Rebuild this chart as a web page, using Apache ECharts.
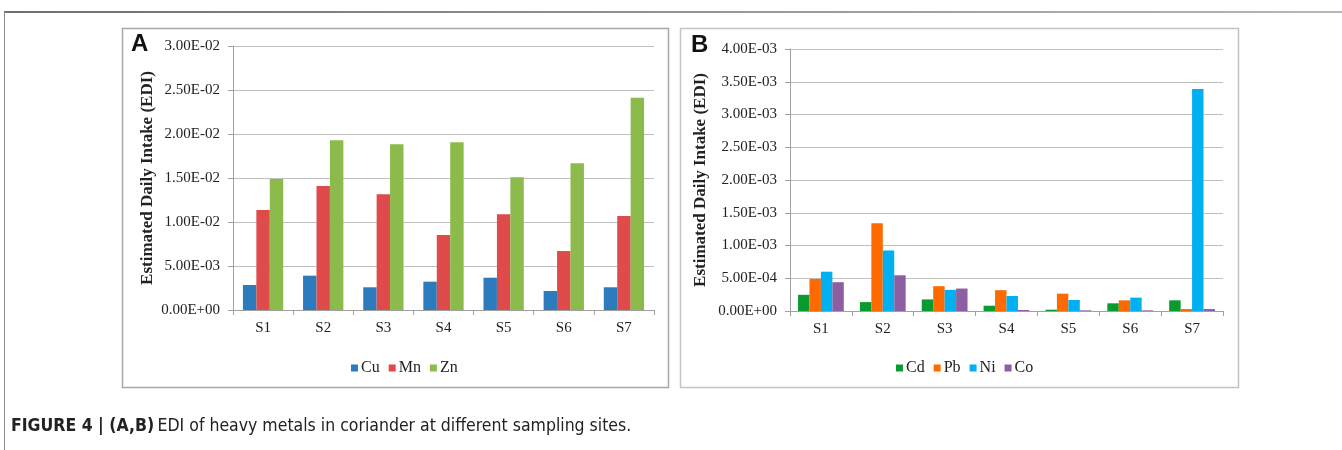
<!DOCTYPE html>
<html>
<head>
<meta charset="utf-8">
<script src="https://cdn.jsdelivr.net/npm/echarts@6/dist/echarts.min.js"></script>
<style>
html,body{margin:0;padding:0;background:#fff;}
#c{width:1342px;height:450px;}
</style>
</head>
<body>
<div id="c"></div>
<script>
const categories = ['S1', 'S2', 'S3', 'S4', 'S5', 'S6', 'S7'];
// Panel A
const cu = [0.00284, 0.0039, 0.00258, 0.00322, 0.00367, 0.00216, 0.00258];
const mn = [0.01136, 0.0141, 0.01315, 0.00852, 0.01087, 0.0067, 0.01068];
const zn = [0.01489, 0.0193, 0.01883, 0.01905, 0.01508, 0.01667, 0.02413];
// Panel B
const cd = [2.47e-4, 1.36e-4, 1.77e-4, 8.1e-5, 2.0e-5, 1.17e-4, 1.63e-4];
const pb = [4.9e-4, 1.34e-3, 3.79e-4, 3.18e-4, 2.65e-4, 1.63e-4, 3.0e-5];
const ni = [6.0e-4, 9.24e-4, 3.23e-4, 2.3e-4, 1.68e-4, 2.04e-4, 3.39e-3];
const co = [4.4e-4, 5.45e-4, 3.43e-4, 1.5e-5, 1.0e-5, 1.0e-5, 3.0e-5];
const axisA = {min: 0, max: 0.03, interval: 0.005};
const axisB = {min: 0, max: 0.004, interval: 0.0005};
const yTitle = 'Estimated Daily Intake (EDI)';
const caption = 'EDI of heavy metals in coriander at different sampling sites.';

function sci(v) {
  if (Math.abs(v) < 1e-12) return '0.00E+00';
  const parts = v.toExponential(2).split('e');
  const n = parseInt(parts[1], 10);
  return parts[0] + 'E' + (n < 0 ? '-' : '+') + String(Math.abs(n)).padStart(2, '0');
}

const serif = '"Liberation Serif", "Times New Roman", serif';
const capFont = '"DejaVu Sans Condensed", "Liberation Sans Narrow", "Liberation Sans", sans-serif';
const txt = '#222';

function xAxis(gi) {
  return {
    type: 'category', gridIndex: gi, data: categories,
    axisLine: {lineStyle: {color: '#a0a0a0', width: 1}},
    axisTick: {show: true, length: 5, lineStyle: {color: '#a0a0a0'}},
    axisLabel: {fontFamily: serif, fontSize: 15, color: txt, margin: 11}
  };
}
function yAxis(gi, ax, gap) {
  return {
    type: 'value', gridIndex: gi, min: ax.min, max: ax.max, interval: ax.interval,
    name: yTitle, nameLocation: 'middle', nameGap: gap,
    nameTextStyle: {fontFamily: serif, fontSize: 17, fontWeight: 'bold', color: txt},
    axisLine: {show: true, lineStyle: {color: '#a0a0a0', width: 1}},
    axisTick: {show: true, length: 5, lineStyle: {color: '#a0a0a0'}},
    axisLabel: {fontFamily: serif, fontSize: 15, color: txt, margin: 13, formatter: sci},
    splitLine: {show: true, lineStyle: {color: '#c0c0c0', width: 1}}
  };
}
function bar(name, data, color, xi, gap) {
  return {
    name: name, type: 'bar', data: data, xAxisIndex: xi, yAxisIndex: xi,
    barGap: '0%', barCategoryGap: gap, itemStyle: {color: color}, silent: true
  };
}

const chart = echarts.init(document.getElementById('c'), null, {renderer: 'canvas'});
chart.setOption({
  animation: false,
  backgroundColor: '#fff',
  grid: [
    {left: 233, top: 46, width: 421, height: 264},
    {left: 790, top: 49, width: 433, height: 262}
  ],
  xAxis: [xAxis(0), xAxis(1)],
  yAxis: [yAxis(0, axisA, 77), yAxis(1, axisB, 81)],
  legend: [
    {data: ['Cu', 'Mn', 'Zn'], left: 346, top: 355, icon: 'rect', itemWidth: 7, itemHeight: 7, itemGap: 9,
     textStyle: {fontFamily: serif, fontSize: 16, color: txt, padding: [0, 0, 0, -2]}},
    {data: ['Cd', 'Pb', 'Ni', 'Co'], left: 891, top: 355, icon: 'rect', itemWidth: 7, itemHeight: 7, itemGap: 9,
     textStyle: {fontFamily: serif, fontSize: 16, color: txt, padding: [0, 0, 0, -2]}}
  ],
  series: [
    bar('Cu', cu, '#2b7bbd', 0, '33%'),
    bar('Mn', mn, '#df4b4b', 0, '33%'),
    bar('Zn', zn, '#8cbb4b', 0, '33%'),
    bar('Cd', cd, '#0a9b2e', 1, '26%'),
    bar('Pb', pb, '#ff6a00', 1, '26%'),
    bar('Ni', ni, '#00b0f0', 1, '26%'),
    bar('Co', co, '#8c5fa3', 1, '26%')
  ],
  graphic: [
    {type: 'line', shape: {x1: 4, y1: 12, x2: 1342, y2: 12}, z: -1,
     style: {stroke: new echarts.graphic.LinearGradient(0, 0, 1, 0, [{offset: 0, color: '#6f6f6f'}, {offset: 1, color: '#b8b8b8'}]), lineWidth: 2}},
    {type: 'line', shape: {x1: 4.5, y1: 12, x2: 4.5, y2: 450}, z: -1, style: {stroke: '#8a8a8a', lineWidth: 1}},
    {type: 'rect', shape: {x: 122.5, y: 28.5, width: 546, height: 359}, z: -1,
     style: {fill: 'none', stroke: '#a8a8a8', lineWidth: 1.5}},
    {type: 'rect', shape: {x: 680.5, y: 28.5, width: 558, height: 359}, z: -1,
     style: {fill: 'none', stroke: '#c4c4c4', lineWidth: 1.5}},
    {type: 'text', left: 131, top: 32, style: {text: 'A', font: 'bold 24px "Liberation Sans", Arial, sans-serif', fill: '#111'}},
    {type: 'text', left: 691, top: 33, style: {text: 'B', font: 'bold 24px "Liberation Sans", Arial, sans-serif', fill: '#111'}},
    {type: 'text', left: 11, top: 417, style: {
      text: '{b|FIGURE 4 | (A,B)} {r|' + caption + '}',
      rich: {
        b: {fontFamily: capFont, fontWeight: 'bold', fontSize: 17.5, fill: '#222'},
        r: {fontFamily: capFont, fontSize: 17.5, fill: '#222'}
      }
    }}
  ]
});
</script>
</body>
</html>
